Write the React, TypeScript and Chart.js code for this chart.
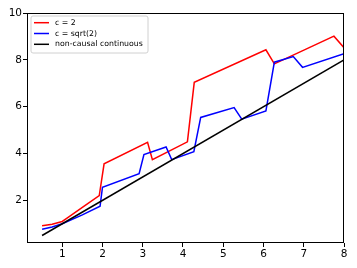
import React, { useEffect, useRef } from "react";
import { Chart, registerables } from "chart.js";

Chart.register(...registerables);

const redX = [0.5, 0.75, 1.0, 1.12, 1.5, 1.92, 2.04, 3.12, 3.24, 4.11, 4.28, 6.06, 6.27, 7.75, 8.0];
const redY = [0.92, 0.98, 1.1, 1.24, 1.7, 2.2, 3.56, 4.48, 3.74, 4.5, 7.04, 8.43, 7.83, 9.01, 8.52];

const blueX = [0.5, 0.75, 1.0, 1.5, 1.94, 2.0, 2.91, 3.03, 3.58, 3.72, 4.27, 4.44, 5.27, 5.46, 6.06, 6.27, 6.74, 6.97, 8.0];
const blueY = [0.77, 0.86, 1.0, 1.38, 1.75, 2.56, 3.14, 3.96, 4.28, 3.74, 4.08, 5.54, 5.96, 5.47, 5.82, 7.9, 8.14, 7.68, 8.26];

const blackX = [0.5, 8.0];
const blackY = [0.5, 8.0];

const seriesLabels = ["c = 2", "c = sqrt(2)", "non-causal continuous"];
const seriesColors = ["#ff0000", "#0000ff", "#000000"];

const xTicks = [1, 2, 3, 4, 5, 6, 7, 8];
const yTicks = [2, 4, 6, 8, 10];

const toPoints = (xs: number[], ys: number[]) => xs.map((x, i) => ({ x, y: ys[i] }));

const FONT = "DejaVu Sans";

const framePlugin = {
  id: "frame",
  afterDatasetsDraw(chart: any) {
    const { ctx, chartArea } = chart;
    ctx.save();
    ctx.strokeStyle = "#000";
    ctx.lineWidth = 1;
    ctx.strokeRect(
      Math.round(chartArea.left) + 0.5,
      Math.round(chartArea.top) + 0.5,
      Math.round(chartArea.right - chartArea.left) - 1,
      Math.round(chartArea.bottom - chartArea.top) - 1
    );
    ctx.restore();
  },
  afterDraw(chart: any) {
    const { ctx, chartArea } = chart;
    const bx = chartArea.left + 4;
    const by = chartArea.top + 3;
    const bw = 117;
    const bh = 37;
    ctx.save();
    ctx.beginPath();
    const r = 2;
    ctx.moveTo(bx + r, by);
    ctx.lineTo(bx + bw - r, by);
    ctx.quadraticCurveTo(bx + bw, by, bx + bw, by + r);
    ctx.lineTo(bx + bw, by + bh - r);
    ctx.quadraticCurveTo(bx + bw, by + bh, bx + bw - r, by + bh);
    ctx.lineTo(bx + r, by + bh);
    ctx.quadraticCurveTo(bx, by + bh, bx, by + bh - r);
    ctx.lineTo(bx, by + r);
    ctx.quadraticCurveTo(bx, by, bx + r, by);
    ctx.closePath();
    ctx.fillStyle = "rgba(255,255,255,0.8)";
    ctx.fill();
    ctx.strokeStyle = "#d0d0d0";
    ctx.lineWidth = 1;
    ctx.stroke();
    ctx.font = `7.8px "${FONT}"`;
    ctx.textBaseline = "middle";
    ctx.fillStyle = "#000";
    seriesLabels.forEach((lab, i) => {
      const y = by + 6.7 + i * 10.8;
      ctx.beginPath();
      ctx.strokeStyle = seriesColors[i];
      ctx.lineWidth = 1.5;
      ctx.moveTo(bx + 3, y);
      ctx.lineTo(bx + 18, y);
      ctx.stroke();
      ctx.fillText(lab, bx + 24, y);
    });
    ctx.restore();
  },
};

export default function App() {
  const ref = useRef<HTMLCanvasElement | null>(null);
  useEffect(() => {
    if (!ref.current) return;
    const mk = (xs: number[], ys: number[], i: number, order: number) => ({
      label: seriesLabels[i],
      data: toPoints(xs, ys),
      borderColor: seriesColors[i],
      backgroundColor: seriesColors[i],
      borderWidth: 1.5,
      pointRadius: 0,
      showLine: true,
      tension: 0,
      order,
    });
    const chart = new Chart(ref.current, {
      type: "scatter",
      data: {
        datasets: [mk(redX, redY, 0, 3), mk(blueX, blueY, 1, 2), mk(blackX, blackY, 2, 1)],
      },
      options: {
        responsive: false,
        animation: false,
        layout: { padding: { top: 13, right: 13, left: 0, bottom: 0 } },
        plugins: { legend: { display: false }, tooltip: { enabled: false } },
        scales: {
          x: {
            type: "linear",
            min: 0.125,
            max: 8,
            afterFit: (s: any) => {
              s.height = 25;
            },
            afterBuildTicks: (s: any) => {
              s.ticks = xTicks.map((v) => ({ value: v }));
            },
            border: { display: false },
            grid: { drawOnChartArea: false, drawTicks: true, tickLength: 4, color: "#000" },
            ticks: { color: "#000", padding: 1, font: { family: FONT, size: 10.5 }, maxRotation: 0 },
          },
          y: {
            type: "linear",
            min: 0.18,
            max: 10,
            afterFit: (s: any) => {
              s.width = 27;
            },
            afterBuildTicks: (s: any) => {
              s.ticks = yTicks.map((v) => ({ value: v }));
            },
            border: { display: false },
            grid: { drawOnChartArea: false, drawTicks: true, tickLength: 4, color: "#000" },
            ticks: { color: "#000", padding: 1, font: { family: FONT, size: 10.5 } },
          },
        },
      },
      plugins: [framePlugin],
    });
    return () => chart.destroy();
  }, []);
  return (
    <div style={{ position: "fixed", left: 0, top: 0, width: 357, height: 268, background: "#fff" }}>
      <canvas ref={ref} width={357} height={268} style={{ display: "block" }} />
    </div>
  );
}
